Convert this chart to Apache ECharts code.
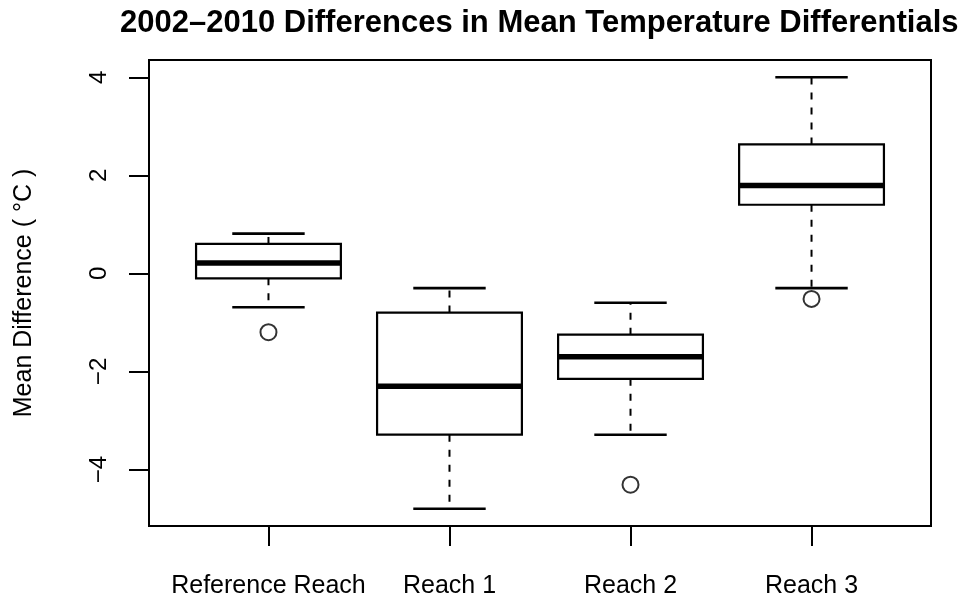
<!DOCTYPE html>
<html>
<head>
<meta charset="utf-8">
<script src="https://cdn.jsdelivr.net/npm/echarts@6/dist/echarts.min.js"></script>
<style>
  html, body { margin: 0; padding: 0; background: #fff; }
  #chart { width: 963px; height: 601px; }
</style>
</head>
<body>
<div id="chart"></div>
<script>
// Reach groups along the x axis
const categories = ['Reference Reach', 'Reach 1', 'Reach 2', 'Reach 3'];

// Five-number summaries per reach (°C)
const lowerWhisker = [-0.69, -4.80, -3.29, -0.30];
const q1           = [-0.10, -3.29, -2.15,  1.40];
const medians      = [ 0.21, -2.30, -1.70,  1.79];
const q3           = [ 0.60, -0.80, -1.25,  2.63];
const upperWhisker = [ 0.81, -0.30, -0.60,  4.00];

// Outlying points: [reach index, value]
const outliers = [[0, -1.20], [2, -4.31], [3, -0.52]];

// Y axis tick labels
const yTicks = [-4, -2, 0, 2, 4];

const FONT = 'Liberation Sans, Arial, sans-serif';
const BOX_WEX = 0.8;     // box width in category units
const STAPLE_WEX = 0.4;  // whisker cap width in category units

const boxRows = categories.map((c, i) => [
  i + 1, lowerWhisker[i], q1[i], medians[i], q3[i], upperWhisker[i]
]);
const outlierRows = outliers.map(o => [o[0] + 1, o[1]]);

function renderBox(params, api) {
  const x = api.value(0);
  const unit = api.size([1, 0])[0];
  const halfBox = unit * BOX_WEX / 2;
  const halfCap = unit * STAPLE_WEX / 2;
  const pLo = api.coord([x, api.value(1)]);
  const pQ1 = api.coord([x, api.value(2)]);
  const pMed = api.coord([x, api.value(3)]);
  const pQ3 = api.coord([x, api.value(4)]);
  const pHi = api.coord([x, api.value(5)]);
  const cx = pMed[0];
  const dashed = { stroke: '#000', lineWidth: 2, lineDash: [7, 8] };
  const solid = { stroke: '#000', lineWidth: 2.6 };
  return {
    type: 'group',
    children: [
      { type: 'line', shape: { x1: cx, y1: pQ1[1], x2: cx, y2: pLo[1] }, style: dashed },
      { type: 'line', shape: { x1: cx, y1: pQ3[1], x2: cx, y2: pHi[1] }, style: dashed },
      { type: 'line', shape: { x1: cx - halfCap, y1: pLo[1], x2: cx + halfCap, y2: pLo[1] }, style: solid },
      { type: 'line', shape: { x1: cx - halfCap, y1: pHi[1], x2: cx + halfCap, y2: pHi[1] }, style: solid },
      { type: 'rect',
        shape: { x: cx - halfBox, y: pQ3[1], width: halfBox * 2, height: pQ1[1] - pQ3[1] },
        style: { fill: '#fff', stroke: '#000', lineWidth: 2.2 } },
      { type: 'line', shape: { x1: cx - halfBox, y1: pMed[1], x2: cx + halfBox, y2: pMed[1] },
        style: { stroke: '#000', lineWidth: 5.5 } }
    ]
  };
}

const chart = echarts.init(document.getElementById('chart'), null, { renderer: 'canvas' });
chart.setOption({
  backgroundColor: '#fff',
  animation: false,
  title: {
    text: '2002\u20132010 Differences in Mean Temperature Differentials',
    left: 115,
    top: 3,
    textStyle: { fontFamily: FONT, fontWeight: 'bold', fontSize: 31, color: '#000' }
  },
  grid: {
    left: 149, right: 32, top: 60, bottom: 75,
    show: true, borderColor: '#000', borderWidth: 2, backgroundColor: 'transparent'
  },
  xAxis: {
    type: 'value',
    min: 0.34, max: 4.66,
    splitLine: { show: false },
    axisLine: { show: true, onZero: false, lineStyle: { color: '#000', width: 2 } },
    axisTick: {
      show: true, length: 20, customValues: [1, 2, 3, 4],
      lineStyle: { color: '#000', width: 2 }
    },
    axisLabel: {
      customValues: [1, 2, 3, 4],
      margin: 48,
      fontFamily: FONT, fontSize: 25, color: '#000',
      formatter: v => categories[Math.round(v) - 1] || ''
    }
  },
  yAxis: {
    type: 'value',
    min: -5.152, max: 4.352,
    name: 'Mean Difference ( \u00b0C )',
    nameLocation: 'middle',
    nameRotate: 90,
    nameGap: 112,
    nameTextStyle: { fontFamily: FONT, fontSize: 25, color: '#000' },
    splitLine: { show: false },
    axisLine: { show: true, onZero: false, lineStyle: { color: '#000', width: 2 } },
    axisTick: {
      show: true, length: 20, customValues: yTicks,
      lineStyle: { color: '#000', width: 2 }
    },
    axisLabel: {
      customValues: yTicks,
      rotate: 90,
      margin: 38,
      fontFamily: FONT, fontSize: 24, color: '#000',
      formatter: v => (v < 0 ? '\u2212' + Math.abs(v) : String(v))
    }
  },
  series: [
    {
      type: 'custom',
      renderItem: renderBox,
      data: boxRows,
      encode: { x: 0, y: [1, 2, 3, 4, 5] },
      clip: false,
      z: 2
    },
    {
      type: 'scatter',
      data: outlierRows,
      symbol: 'emptyCircle',
      symbolSize: 16,
      itemStyle: { color: '#000', borderColor: '#000', borderWidth: 1.8 },
      z: 3
    }
  ]
});
</script>
</body>
</html>
